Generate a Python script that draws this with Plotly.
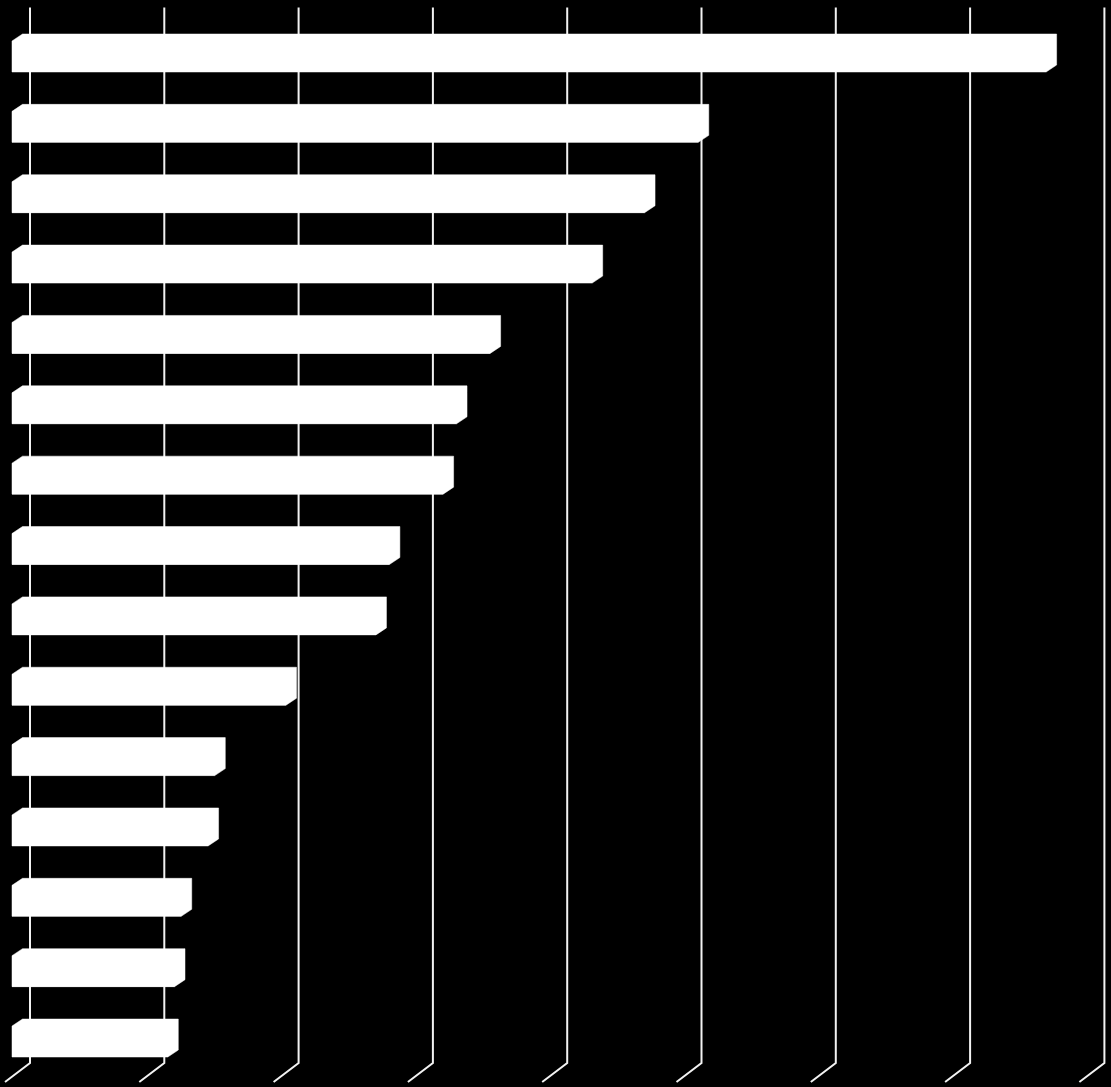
import plotly.graph_objects as go

# ---- data (values in gridline units; no labels shown in the reference) ----
categories = [f"Item {i}" for i in range(1, 16)]
values = [7.70, 5.11, 4.71, 4.32, 3.56, 3.31, 3.21, 2.81, 2.71, 2.04,
          1.51, 1.46, 1.26, 1.21, 1.16]
grid_ticks = [0, 1, 2, 3, 4, 5, 6, 7, 8]

# ---- geometry (styling, in axis units) ----
PX_X = 134.3           # pixels per x unit
PX_Y = 70.36           # pixels per category row
bar_h = 31 / PX_Y      # front face thickness
dx = 10.5 / PX_X       # depth offset (x)
dy = 7 / PX_Y          # depth offset (y, upward)
wall = 18 / PX_X       # back wall offset of gridlines
y_top = (7.5 - 56.5) / PX_Y
y_floor = (1063 - 56.5) / PX_Y
y_front = (1082 - 56.5) / PX_Y
floor_dx = 25 / PX_X

idx = list(range(len(values)))

fig = go.Figure()

# back-wall gridlines with floor diagonals
gx, gy = [], []
for g in grid_ticks:
    x0 = g + wall
    gx += [x0, x0, x0 - floor_dx, None]
    gy += [y_top, y_floor, y_front, None]
fig.add_trace(go.Scatter(x=gx, y=gy, mode="lines",
                         line=dict(color="#f2f2f2", width=2),
                         hoverinfo="skip", showlegend=False))

# depth faces (top + side) of each bar
px, py = [], []
for v, c in zip(values, idx):
    t = c - bar_h / 2
    b = c + bar_h / 2
    px += [0, dx, v + dx, v + dx, v, 0, 0, None]
    py += [t, t - dy, t - dy, b - dy, b, b, t, None]
fig.add_trace(go.Scatter(x=px, y=py, mode="lines", fill="toself",
                         fillcolor="white", line=dict(color="white", width=0.5),
                         hoverinfo="skip", showlegend=False))

# front faces
fig.add_trace(go.Bar(x=values, y=idx, orientation="h", base=0,
                     width=bar_h, marker=dict(color="white", line=dict(width=0)),
                     hovertext=categories, showlegend=False))

fig.update_layout(
    width=1111, height=1087,
    margin=dict(l=0, r=0, t=0, b=0),
    paper_bgcolor="black", plot_bgcolor="black",
    xaxis=dict(visible=False, range=[-12 / PX_X, (1111 - 12) / PX_X]),
    yaxis=dict(visible=False, range=[(1087 - 56.5) / PX_Y, -56.5 / PX_Y]),
    showlegend=False,
)

fig.write_html("out.html")
